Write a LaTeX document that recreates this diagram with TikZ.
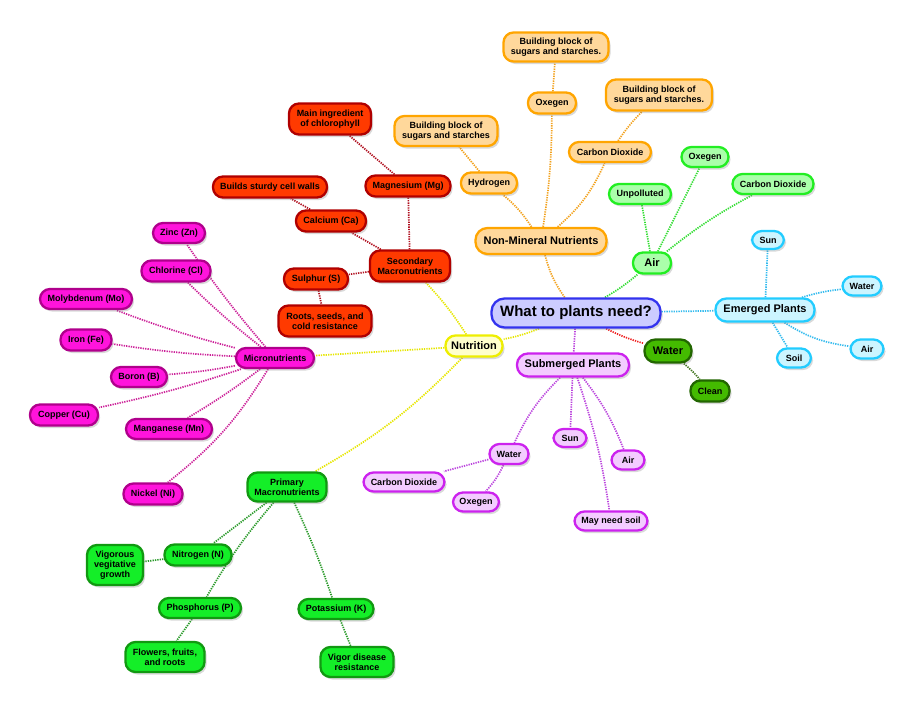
\documentclass[tikz,border=0pt]{standalone}
\usepackage{fontspec}
\setmainfont{Liberation Sans}
\usetikzlibrary{shadows}
\pgfdeclarelayer{background}
\pgfsetlayers{background,main}
\definecolor{ornF}{HTML}{FFD89B}\definecolor{ornD}{HTML}{FFA500}\definecolor{ornE}{HTML}{F2A21E}
\definecolor{redF}{HTML}{FF3A00}\definecolor{redD}{HTML}{B00000}\definecolor{redE}{HTML}{B01020}
\definecolor{magF}{HTML}{FF14DC}\definecolor{magD}{HTML}{B0008C}\definecolor{magE}{HTML}{CC2299}
\definecolor{grnF}{HTML}{14EE28}\definecolor{grnD}{HTML}{119911}\definecolor{grnE}{HTML}{2A9A2A}
\definecolor{lgF}{HTML}{AAFFAA}\definecolor{lgD}{HTML}{22EE22}\definecolor{lgE}{HTML}{33DD33}
\definecolor{cyF}{HTML}{CCF5FF}\definecolor{cyD}{HTML}{22CCFF}\definecolor{cyE}{HTML}{33BBEE}
\definecolor{puF}{HTML}{F3CCFF}\definecolor{puD}{HTML}{CC22EE}\definecolor{puE}{HTML}{BB44DD}
\definecolor{dgF}{HTML}{44BB00}\definecolor{dgD}{HTML}{226600}\definecolor{dgE}{HTML}{447722}
\definecolor{yeF}{HTML}{FFFFCC}\definecolor{yeD}{HTML}{EEEE00}\definecolor{yeE}{HTML}{E6E600}
\definecolor{ceF}{HTML}{CCCCFF}\definecolor{ceD}{HTML}{3333EE}
\definecolor{wtE}{HTML}{EE2222}
\newcommand{\smf}{\bfseries\fontsize{9}{10}\selectfont}
\newcommand{\mdf}{\bfseries\fontsize{11}{12}\selectfont}
\begin{document}
\begin{tikzpicture}[x=1pt,y=-1pt,
  base/.style={draw, rounded corners=10pt, line width=2.3pt, align=center, inner sep=1pt,
    font=\smf, text=black,
    drop shadow={shadow xshift=2pt, shadow yshift=-2.5pt, opacity=0.3}},
  bx/.style 2 args={base, minimum width=#1, minimum height=#2},
  orn/.style={fill=ornF, draw=ornD},
  red/.style={fill=redF, draw=redD},
  mag/.style={fill=magF, draw=magD},
  grn/.style={fill=grnF, draw=grnD},
  lg/.style={fill=lgF, draw=lgD},
  cy/.style={fill=cyF, draw=cyD},
  pu/.style={fill=puF, draw=puD},
  dg/.style={fill=dgF, draw=dgD},
  ye/.style={fill=yeF, draw=yeD},
  md/.style={font=\mdf},
  ed/.style={line width=1.7pt, dash pattern=on 1.3pt off 1.1pt},
]
\useasboundingbox (0,0) rectangle (918,710);

% ---------- nodes ----------
\node[bx={169}{29}, fill=ceF, draw=ceD, rounded corners=13pt, font=\bfseries\fontsize{15}{16}\selectfont] (c) at (576,313) {What to plants need?};
\node[bx={57}{21}, ye, md] (nutr) at (474,346) {Nutrition};
\node[bx={131}{26}, orn, md, rounded corners=12pt] (nmn) at (541,241) {Non-Mineral Nutrients};
\node[bx={38}{21}, lg, md] (air) at (652,263) {Air};
\node[bx={99}{23}, cy, md, rounded corners=11pt] (emg) at (765,310) {Emerged Plants};
\node[bx={47}{23}, dg, md, rounded corners=11pt] (wat) at (668,351) {Water};
\node[bx={39}{21}, dg] (clean) at (710,391) {Clean};
\node[bx={112}{23}, pu, md, rounded corners=11pt] (sub) at (573,365) {Submerged Plants};

% orange
\node[bx={105}{29}, orn] (bbt) at (556,47) {Building block of\\sugars and starches.};
\node[bx={48}{21}, orn] (oox) at (552,103) {Oxegen};
\node[bx={106}{31}, orn] (bbr) at (659,95) {Building block of\\sugars and starches.};
\node[bx={103}{30}, orn] (bbl) at (446,131) {Building block of\\sugars and starches};
\node[bx={82}{20}, orn] (ocd) at (610,152) {Carbon Dioxide};
\node[bx={56}{21}, orn] (hyd) at (489,183) {Hydrogen};

% light green
\node[bx={62}{20}, lg] (unp) at (640,194) {Unpolluted};
\node[bx={47}{20}, lg] (gox) at (705,157) {Oxegen};
\node[bx={81}{20}, lg] (gcd) at (773,184) {Carbon Dioxide};

% cyan
\node[bx={32}{18}, cy] (csun) at (768,240) {Sun};
\node[bx={39}{19}, cy] (cwat) at (862,286) {Water};
\node[bx={33}{19}, cy] (cair) at (867,349) {Air};
\node[bx={34}{19}, cy] (csoil) at (794,358) {Soil};

% purple
\node[bx={39}{20}, pu] (pwat) at (509,454) {Water};
\node[bx={81}{19}, pu] (pcd) at (404,482) {Carbon Dioxide};
\node[bx={46}{19}, pu] (pox) at (476,502) {Oxegen};
\node[bx={33}{18}, pu] (psun) at (570,438) {Sun};
\node[bx={33}{19}, pu] (pair) at (628,460) {Air};
\node[bx={73}{19}, pu] (psoil) at (611,521) {May need soil};

% red
\node[bx={82}{31}, red] (rmain) at (330,119) {Main ingredient\\of chlorophyll};
\node[bx={114}{21}, red] (rbuild) at (270,187) {Builds sturdy cell walls};
\node[bx={85}{21}, red] (rmg) at (408,186) {Magnesium (Mg)};
\node[bx={70}{21}, red] (rca) at (331,221) {Calcium (Ca)};
\node[bx={80}{31}, red] (rsec) at (410,266) {Secondary\\Macronutrients};
\node[bx={64}{21}, red] (rs) at (316,279) {Sulphur (S)};
\node[bx={93}{31}, red] (rroot) at (325,321) {Roots, seeds, and\\cold resistance};

% magenta
\node[bx={52}{20}, mag] (mzn) at (179,233) {Zinc (Zn)};
\node[bx={69}{21}, mag] (mcl) at (176,271) {Chlorine (Cl)};
\node[bx={92}{20}, mag] (mmo) at (86,299) {Molybdenum (Mo)};
\node[bx={51}{21}, mag] (mfe) at (86,340) {Iron (Fe)};
\node[bx={56}{20}, mag] (mb) at (139,377) {Boron (B)};
\node[bx={68}{21}, mag] (mcu) at (64,415) {Copper (Cu)};
\node[bx={86}{20}, mag] (mmn) at (169,429) {Manganese (Mn)};
\node[bx={59}{21}, mag] (mni) at (153,494) {Nickel (Ni)};
\node[bx={78}{20}, mag] (micro) at (275,358) {Micronutrients};

% green primary
\node[bx={79}{29}, grn] (prim) at (287,487) {Primary\\Macronutrients};
\node[bx={67}{21}, grn] (gn) at (198,555) {Nitrogen (N)};
\node[bx={56}{40}, grn] (gvig) at (115,565) {Vigorous\\vegitative\\growth};
\node[bx={82}{20}, grn] (gp) at (200,608) {Phosphorus (P)};
\node[bx={79}{30}, grn] (gflow) at (165,657) {Flowers, fruits,\\and roots};
\node[bx={75}{20}, grn] (gk) at (336,609) {Potassium (K)};
\node[bx={73}{30}, grn] (gvd) at (357,662) {Vigor disease\\resistance};

% ---------- connectors (behind nodes) ----------
\begin{pgfonlayer}{background}
\begin{scope}[ed]
% centre
\draw[ornE] (c) to[bend left=10] (nmn);
\draw[lgE] (c) to[bend right=5] (air);
\draw[cyE] (c) -- (emg);
\draw[wtE] (c) to[bend right=5] (wat);
\draw[dgE] (wat) to[bend left=5] (clean);
\draw[puE] (c) -- (sub);
\draw[yeE] (c) to[bend left=5] (nutr);
% orange
\draw[ornE] (nmn) to[bend right=8] (hyd);
\draw[ornE] (hyd) -- (bbl);
\draw[ornE] (nmn) to[bend right=4] (oox);
\draw[ornE] (oox) -- (bbt);
\draw[ornE] (nmn) to[bend right=12] (ocd);
\draw[ornE] (ocd) to[bend left=5] (bbr);
% air
\draw[lgE] (air) -- (unp);
\draw[lgE] (air) -- (gox);
\draw[lgE] (air) to[bend left=5] (gcd);
% emerged
\draw[cyE] (emg) -- (csun);
\draw[cyE] (emg) to[bend left=5] (cwat);
\draw[cyE] (emg) to[bend right=12] (cair);
\draw[cyE] (emg) -- (csoil);
% submerged
\draw[puE] (sub) to[bend right=10] (pwat);
\draw[puE] (sub) -- (psun);
\draw[puE] (sub) to[bend left=8] (pair);
\draw[puE] (sub) to[bend left=5] (psoil);
\draw[puE] (pwat) -- (pcd);
\draw[puE] (pwat) to[bend left=8] (pox);
% red
\draw[redE] (rsec) -- (rmg);
\draw[redE] (rsec) -- (rca);
\draw[redE] (rsec) -- (rs);
\draw[redE] (rmg) -- (rmain);
\draw[redE] (rca) -- (rbuild);
\draw[redE] (rs) -- (rroot);
% yellow
\draw[yeE] (nutr) to[bend right=5] (rsec);
\draw[yeE] (nutr) -- (micro);
\draw[yeE] (nutr) to[bend left=8] (prim);
% magenta
\foreach \m in {mzn,mcl,mmo,mfe,mb,mcu,mmn}{\draw[magE] (micro) to[bend left=3] (\m);}
\draw[magE] (micro) to[bend left=10] (mni);
% green primary
\draw[grnE] (prim) -- (gn);
\draw[grnE] (prim) to[bend right=5] (gp);
\draw[grnE] (prim) to[bend left=3] (gk);
\draw[grnE] (gn) -- (gvig);
\draw[grnE] (gp) -- (gflow);
\draw[grnE] (gk) -- (gvd);
\end{scope}
\end{pgfonlayer}
\end{tikzpicture}
\end{document}
